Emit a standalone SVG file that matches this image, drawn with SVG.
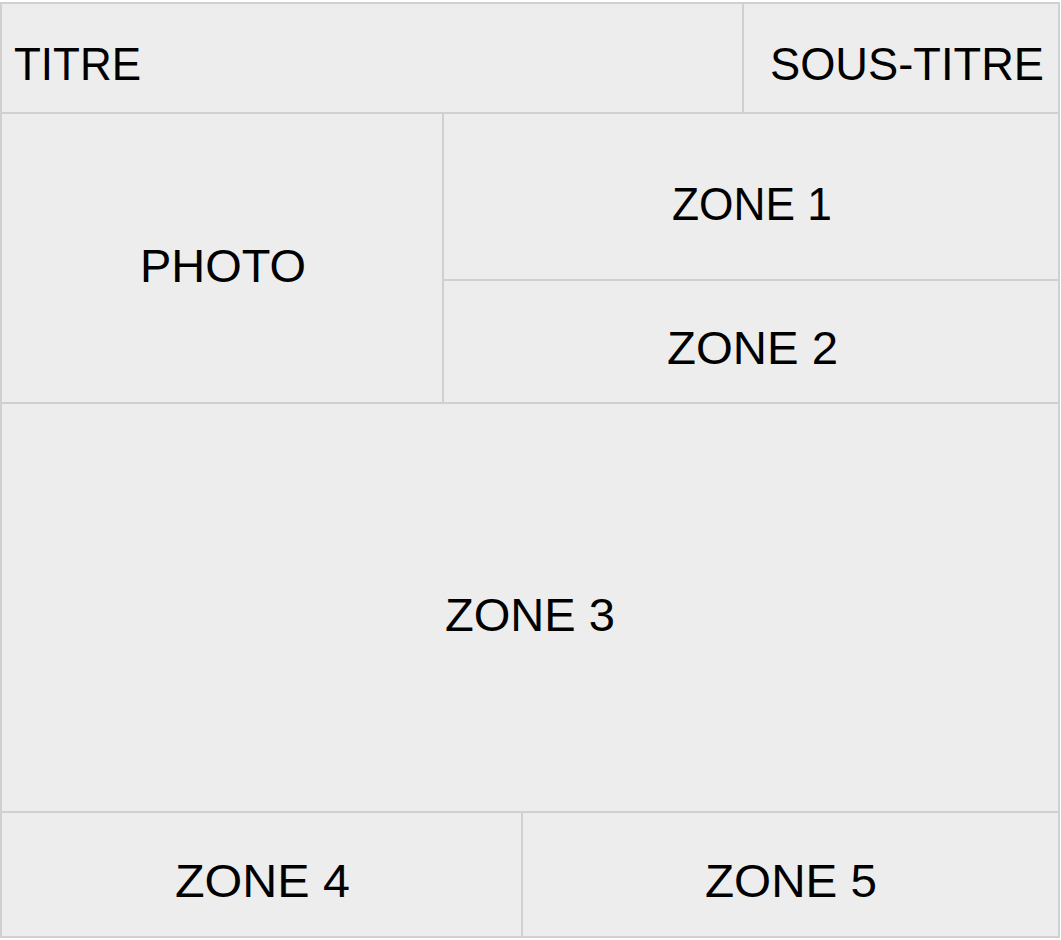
<svg xmlns="http://www.w3.org/2000/svg" width="1061" height="940" viewBox="0 0 1061 940">
<style>
.cell{fill:#ededed;stroke:#d0d0d0;stroke-width:2}
.lbl{font-family:"Liberation Sans","Noto Sans",Arial,sans-serif;font-size:46px;fill:#000}
</style>
<rect x="0" y="0" width="1061" height="940" fill="#ffffff"/>
<g id="titre"><rect class="cell" x="1" y="3" width="742" height="110"/><text class="lbl" x="14" y="80" textLength="127" lengthAdjust="spacingAndGlyphs">TITRE</text></g>
<g id="sous-titre"><rect class="cell" x="743" y="3" width="316" height="110"/><text class="lbl" x="770" y="80" textLength="274" lengthAdjust="spacingAndGlyphs">SOUS-TITRE</text></g>
<g id="photo"><rect class="cell" x="1" y="113" width="442" height="290"/><text class="lbl" x="140" y="282" textLength="166" lengthAdjust="spacingAndGlyphs">PHOTO</text></g>
<g id="zone1"><rect class="cell" x="443" y="113" width="616" height="167"/><text class="lbl" x="672" y="220" textLength="160" lengthAdjust="spacingAndGlyphs">ZONE 1</text></g>
<g id="zone2"><rect class="cell" x="443" y="280" width="616" height="123"/><text class="lbl" x="667" y="364" textLength="171" lengthAdjust="spacingAndGlyphs">ZONE 2</text></g>
<g id="zone3"><rect class="cell" x="1" y="403" width="1058" height="409"/><text class="lbl" x="445" y="631" textLength="170" lengthAdjust="spacingAndGlyphs">ZONE 3</text></g>
<g id="zone4"><rect class="cell" x="1" y="812" width="521" height="125"/><text class="lbl" x="175" y="897" textLength="175" lengthAdjust="spacingAndGlyphs">ZONE 4</text></g>
<g id="zone5"><rect class="cell" x="522" y="812" width="537" height="125"/><text class="lbl" x="705" y="897" textLength="172" lengthAdjust="spacingAndGlyphs">ZONE 5</text></g>
<g id="connectors"></g>
</svg>
